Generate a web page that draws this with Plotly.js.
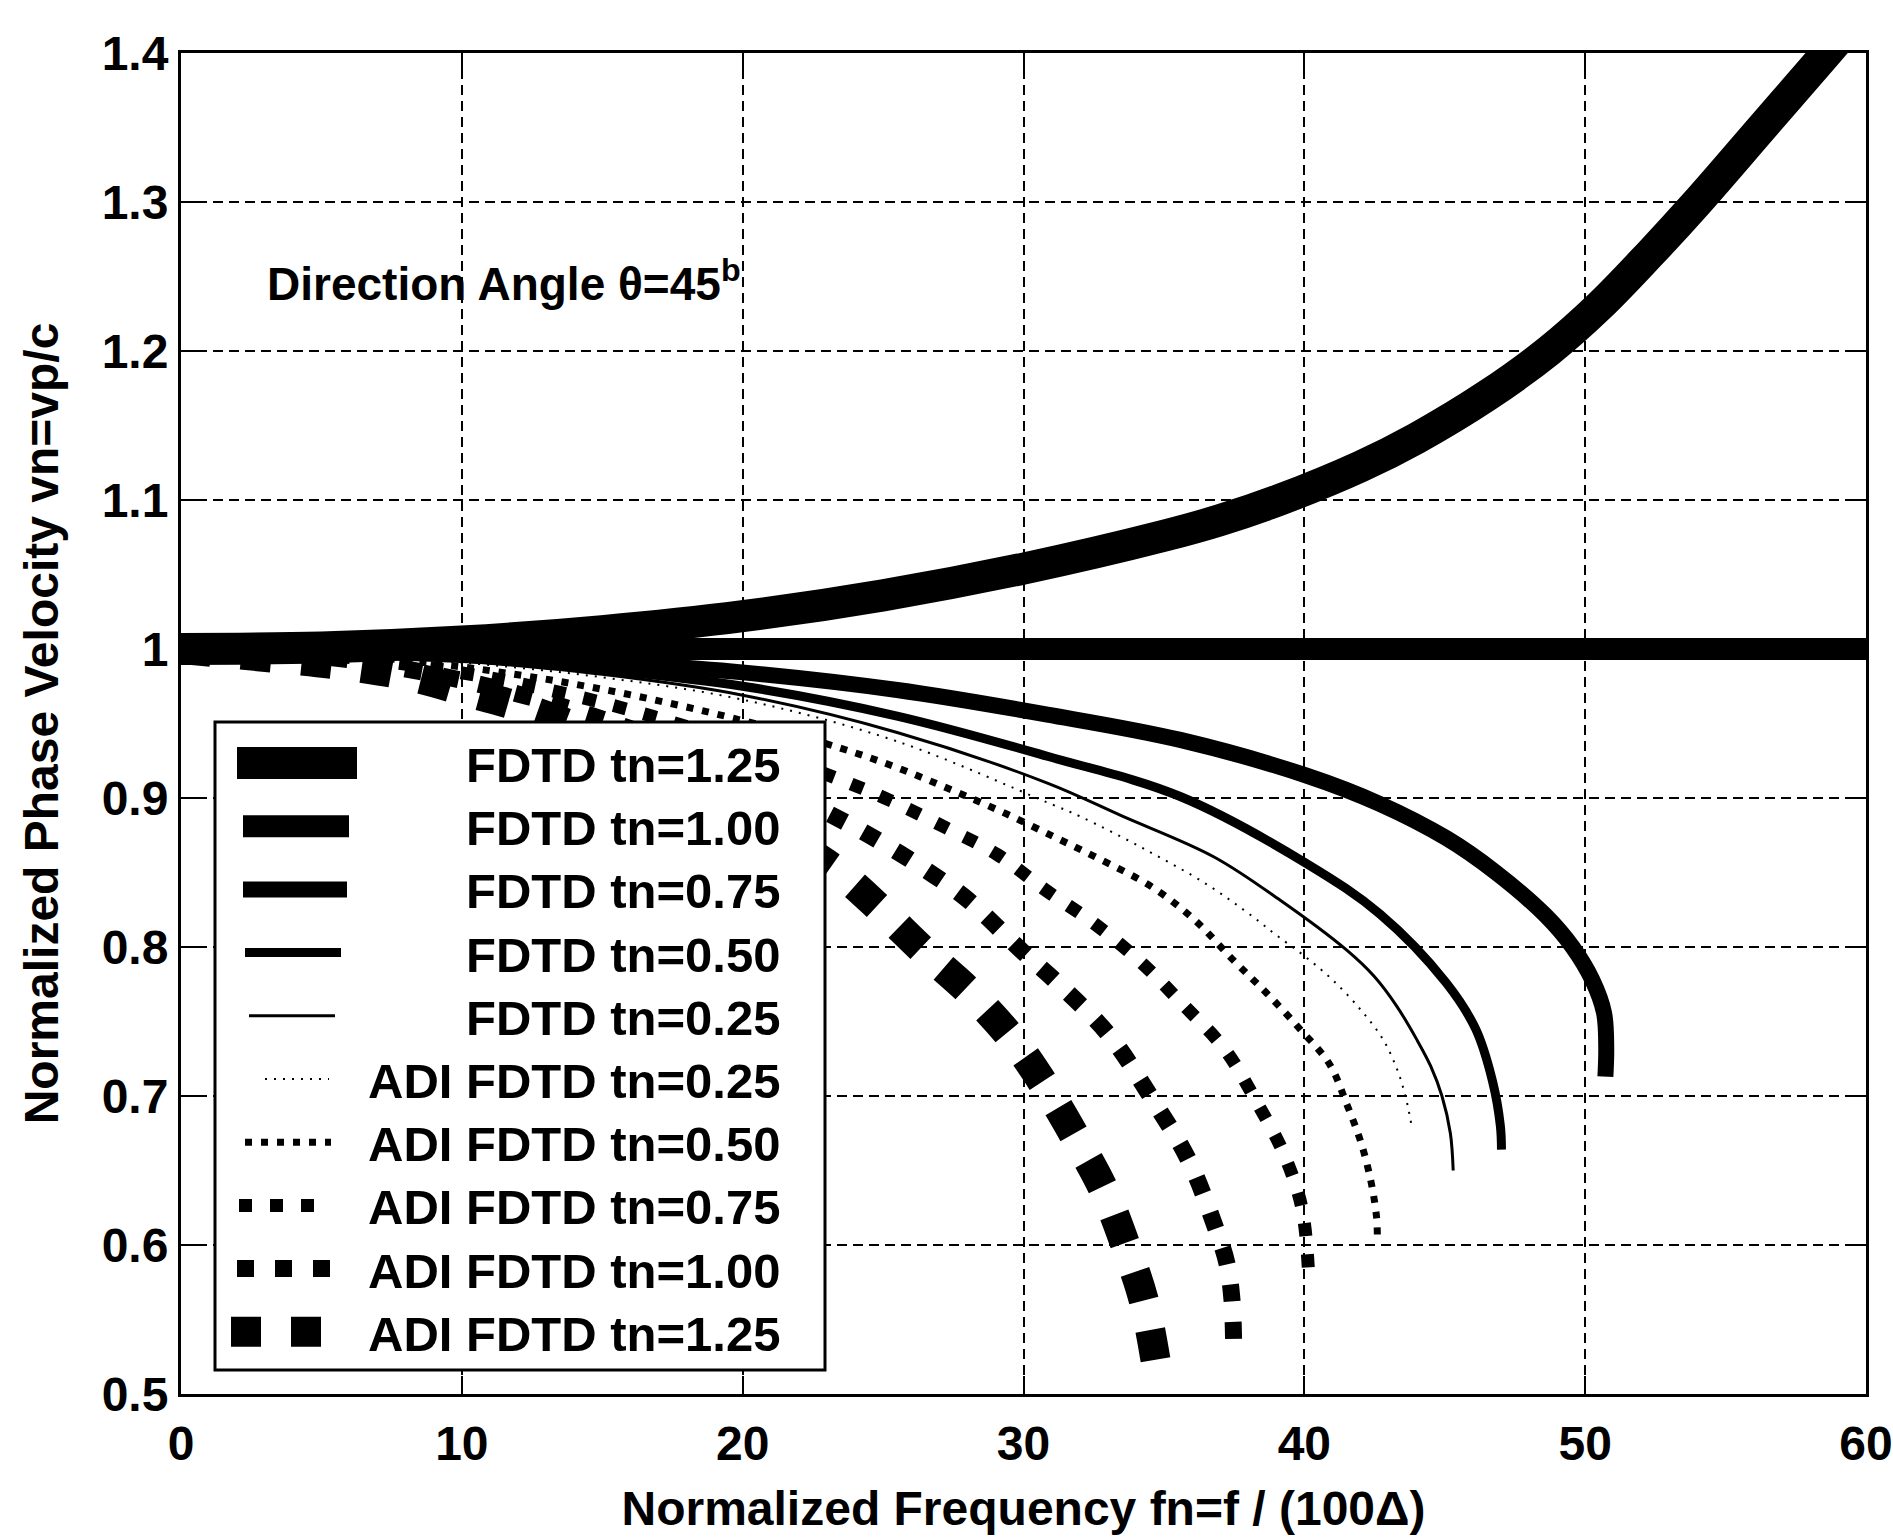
<!DOCTYPE html>
<html>
<head>
<meta charset="utf-8">
<script src="https://cdn.plot.ly/plotly-3.0.1.min.js"></script>
<style>
  html, body { margin: 0; padding: 0; background: #ffffff; }
  #chart { width: 1893px; height: 1540px; }
</style>
</head>
<body>
<div id="chart"></div>
<script>
// Normalized phase velocity vs normalized frequency, direction angle 45 deg.

// FDTD, tn = 1.25
const fdtd125Freq = [0, 5, 10, 15, 20, 25, 30, 35, 37, 39.1, 42, 44, 46.5, 48.7, 50.5, 52.3, 54.0, 56.3, 58.6, 59.6];
const fdtd125Vel  = [1.000, 1.001, 1.005, 1.012, 1.022, 1.036, 1.054, 1.076, 1.0865, 1.100, 1.1225, 1.1415, 1.170, 1.200, 1.230, 1.265, 1.300, 1.350, 1.400, 1.422];

// FDTD, tn = 1.00
const fdtd100Freq = [0, 60];
const fdtd100Vel  = [1.000, 1.000];

// FDTD, tn = 0.75
const fdtd075Freq = [0, 5, 10, 15, 19.6, 25.5, 30.85, 35.58, 40.08, 42.69, 45.06, 46.82, 48.6, 49.55, 50.25, 50.67, 50.75, 50.72];
const fdtd075Vel  = [1.000, 0.999, 0.996, 0.991, 0.985, 0.9725, 0.956, 0.939, 0.915, 0.896, 0.873, 0.850, 0.821, 0.800, 0.778, 0.756, 0.733, 0.713];

// FDTD, tn = 0.50
const fdtd050Freq = [0, 5, 10, 15, 20, 25.5, 30.85, 35.58, 40.08, 42.7, 45.05, 46.1, 46.7, 46.98, 47.02];
const fdtd050Vel  = [1.000, 0.998, 0.994, 0.986, 0.975, 0.955, 0.928, 0.901, 0.856, 0.822, 0.776, 0.745, 0.710, 0.680, 0.664];

// FDTD, tn = 0.25
const fdtd025Freq = [0, 5, 10, 15, 20, 25.5, 30.85, 33.5, 36.77, 39.13, 41.5, 42.5, 43.3, 44, 44.5, 44.9, 45.2, 45.3];
const fdtd025Vel  = [1.000, 0.998, 0.992, 0.983, 0.969, 0.944, 0.910, 0.888, 0.8606, 0.8315, 0.798, 0.780, 0.760, 0.738, 0.720, 0.700, 0.675, 0.650];

// ADI FDTD, tn = 0.25
const adi025Freq = [0, 5, 10, 15, 20, 25.5, 30.85, 32.03, 34.28, 36.53, 38.19, 39, 40, 41, 42, 42.8, 43.3, 43.6, 43.8];
const adi025Vel  = [1.000, 0.998, 0.991, 0.981, 0.966, 0.938, 0.897, 0.8875, 0.866, 0.842, 0.820, 0.808, 0.794, 0.778, 0.758, 0.738, 0.718, 0.700, 0.682];

// ADI FDTD, tn = 0.50
const adi050Freq = [0, 5, 10, 15, 20, 23.39, 25.41, 27.3, 29.2, 31.08, 32.5, 34.6, 36.1, 37.48, 38.66, 39.84, 40.91, 41.5, 42.03, 42.39, 42.57, 42.6];
const adi050Vel  = [1.000, 0.997, 0.988, 0.973, 0.952, 0.934, 0.921, 0.9065, 0.891, 0.874, 0.861, 0.840, 0.818, 0.791, 0.769, 0.745, 0.721, 0.695, 0.668, 0.641, 0.619, 0.607];

// ADI FDTD, tn = 0.75
const adi075Freq = [0, 5, 10, 15, 20, 23.51, 25.35, 27.24, 29.07, 30.8, 32.5, 34.17, 35.7, 37.18, 38.3, 39.25, 39.9, 40.14];
const adi075Vel  = [1.000, 0.996, 0.984, 0.964, 0.936, 0.912, 0.8975, 0.880, 0.862, 0.838, 0.816, 0.790, 0.761, 0.731, 0.696, 0.662, 0.626, 0.585];

// ADI FDTD, tn = 1.00
const adi100Freq = [0, 5, 10, 15, 20, 23.63, 25.05, 26.5, 28.0, 29.96, 31.09, 33.04, 34.58, 35.88, 36.83, 37.24, 37.42, 37.48];
const adi100Vel  = [1.000, 0.995, 0.979, 0.953, 0.917, 0.884, 0.869, 0.852, 0.832, 0.797, 0.778, 0.741, 0.698, 0.657, 0.612, 0.588, 0.564, 0.537];

// ADI FDTD, tn = 1.25
const adi125Freq = [0, 6.2, 8.3, 10.4, 12.1, 14, 16, 18, 20, 22, 23.5, 24.87, 26.47, 28.12, 29.61, 30.79, 31.92, 32.86, 33.63, 34.28, 34.7];
const adi125Vel  = [1.000, 0.988, 0.981, 0.970, 0.961, 0.948, 0.932, 0.913, 0.891, 0.868, 0.849, 0.826, 0.797, 0.769, 0.738, 0.706, 0.670, 0.637, 0.600, 0.563, 0.523];

// Legend labels, in legend order
const seriesLabels = [
  'FDTD tn=1.25', 'FDTD tn=1.00', 'FDTD tn=0.75', 'FDTD tn=0.50', 'FDTD tn=0.25',
  'ADI FDTD tn=0.25', 'ADI FDTD tn=0.50', 'ADI FDTD tn=0.75', 'ADI FDTD tn=1.00', 'ADI FDTD tn=1.25'
];

// Axis ticks
const xTickVals = [0, 10, 20, 30, 40, 50, 60];
const xTickText = ['0', '10', '20', '30', '40', '50', '60'];
const yTickVals = [0.5, 0.6, 0.7, 0.8, 0.9, 1.0, 1.1, 1.2, 1.3, 1.4];
const yTickText = ['0.5', '0.6', '0.7', '0.8', '0.9', '1', '1.1', '1.2', '1.3', '1.4'];

const xTitle = 'Normalized Frequency fn=f / (100\u0394)';
const yTitle = 'Normalized Phase Velocity vn=vp/c';
const angleNote = 'Direction Angle \u03b8=45<sup>b</sup>';

// ---- styling ----
const FONT = 'Liberation Sans, Arial, Helvetica, sans-serif';
const INK = '#000000';

// FDTD curves are solid; ADI curves are square dots (dot = line width, butt caps)
const seriesData = [
  { x: fdtd125Freq, y: fdtd125Vel, width: 32, gap: 0 },
  { x: fdtd100Freq, y: fdtd100Vel, width: 22, gap: 0 },
  { x: fdtd075Freq, y: fdtd075Vel, width: 16, gap: 0 },
  { x: fdtd050Freq, y: fdtd050Vel, width: 9,  gap: 0 },
  { x: fdtd025Freq, y: fdtd025Vel, width: 3,  gap: 0 },
  { x: adi025Freq,  y: adi025Vel,  width: 2,  gap: 7 },
  { x: adi050Freq,  y: adi050Vel,  width: 7,  gap: 9 },
  { x: adi075Freq,  y: adi075Vel,  width: 13, gap: 18 },
  { x: adi100Freq,  y: adi100Vel,  width: 17, gap: 21 },
  { x: adi125Freq,  y: adi125Vel,  width: 30, gap: 30 }
];
const dashOf = (s, gap) => (gap > 0 ? s.width + 'px,' + gap + 'px' : 'solid');

const traces = seriesData.map((s, i) => ({
  type: 'scatter',
  mode: 'lines',
  name: seriesLabels[i],
  x: s.x,
  y: s.y,
  line: { color: INK, width: s.width, dash: dashOf(s, s.gap), shape: 'spline', smoothing: 1 },
  hoverinfo: 'skip',
  showlegend: false
}));

// plot-area geometry in page pixels
const L = 181, R = 1866, T = 53, B = 1394;
const PW = R - L, PH = B - T;
const toPaperX = X => (X - L) / PW;
const toPaperY = Y => (B - Y) / PH;

// hand-built legend box (label text right-aligned, samples on the left)
const legendBox = { x0: 215, x1: 825, y0: 722, y1: 1370 };
const legendRow0 = 763, legendRowStep = 63.2, legendTextRight = 782;
const sampleSpans = [
  [237, 357], [243, 349], [243, 347], [245, 341], [249, 335],
  [265, 329], [245, 331], [239, 316], [237, 333], [231, 340]
];

const shapes = [{
  type: 'rect', xref: 'paper', yref: 'paper', layer: 'above',
  x0: toPaperX(legendBox.x0), x1: toPaperX(legendBox.x1),
  y0: toPaperY(legendBox.y1), y1: toPaperY(legendBox.y0),
  fillcolor: '#ffffff', line: { color: INK, width: 3 }
}];
const annotations = [];

seriesData.forEach((s, i) => {
  const rowY = legendRow0 + i * legendRowStep;
  shapes.push({
    type: 'line', xref: 'paper', yref: 'paper', layer: 'above',
    x0: toPaperX(sampleSpans[i][0]), x1: toPaperX(sampleSpans[i][1]),
    y0: toPaperY(rowY), y1: toPaperY(rowY),
    line: { color: INK, width: s.width, dash: dashOf(s, s.gap) }
  });
  annotations.push({
    xref: 'paper', yref: 'paper',
    x: toPaperX(legendTextRight), y: toPaperY(rowY + 2),
    xanchor: 'right', yanchor: 'middle',
    text: seriesLabels[i], showarrow: false,
    font: { family: FONT, size: 49, weight: 'bold', color: INK }
  });
});

annotations.push({
  xref: 'x', yref: 'y', x: 3.0, y: 1.247,
  xanchor: 'left', yanchor: 'middle',
  text: angleNote, showarrow: false,
  font: { family: FONT, size: 46, weight: 'bold', color: INK }
});

const axisCommon = {
  showline: true, linecolor: INK, linewidth: 3, mirror: 'ticks',
  ticks: 'inside', ticklen: 18, tickwidth: 2, tickcolor: INK,
  showgrid: true, gridcolor: INK, gridwidth: 2, griddash: '10px,6px',
  zeroline: false, tickmode: 'array',
  tickfont: { family: FONT, size: 48, weight: 'bold', color: INK }
};

const layout = {
  width: 1893, height: 1540,
  paper_bgcolor: '#ffffff', plot_bgcolor: '#ffffff',
  margin: { l: L, r: 1893 - R, t: T, b: 1540 - B },
  showlegend: false,
  font: { family: FONT, color: INK },
  xaxis: Object.assign({}, axisCommon, {
    range: [0, 60], tickvals: xTickVals, ticktext: xTickText,
    ticklabelstandoff: 5, ticklabeloverflow: 'allow',
    title: { text: xTitle, font: { family: FONT, size: 48, weight: 'bold', color: INK }, standoff: 23 }
  }),
  yaxis: Object.assign({}, axisCommon, {
    range: [0.5, 1.4], tickvals: yTickVals, ticktext: yTickText,
    ticklabelstandoff: 0,
    title: { text: yTitle, font: { family: FONT, size: 48, weight: 'bold', color: INK }, standoff: 28 }
  }),
  shapes: shapes,
  annotations: annotations
};

const gd = document.getElementById('chart');
Plotly.newPlot(gd, traces, layout, { displayModeBar: false, staticPlot: true }).then(() => {
  // stretch each dotted pattern slightly so the curve ends on a whole dot
  const groups = gd.querySelectorAll('.scatterlayer .trace');
  const idx = [], dashes = [];
  seriesData.forEach((s, i) => {
    if (!(s.gap > 0) || !groups[i]) return;
    const path = groups[i].querySelector('path.js-line');
    if (!path || !path.getTotalLength) return;
    const len = path.getTotalLength();
    const period = s.width + s.gap;
    const n = Math.max(1, Math.round((len - s.width) / period));
    const gap = (len - s.width) / n - s.width;
    idx.push(i);
    dashes.push(dashOf(s, Math.max(1, gap).toFixed(2)));
  });
  if (idx.length) return Plotly.restyle(gd, { 'line.dash': dashes }, idx);
});
</script>
</body>
</html>
